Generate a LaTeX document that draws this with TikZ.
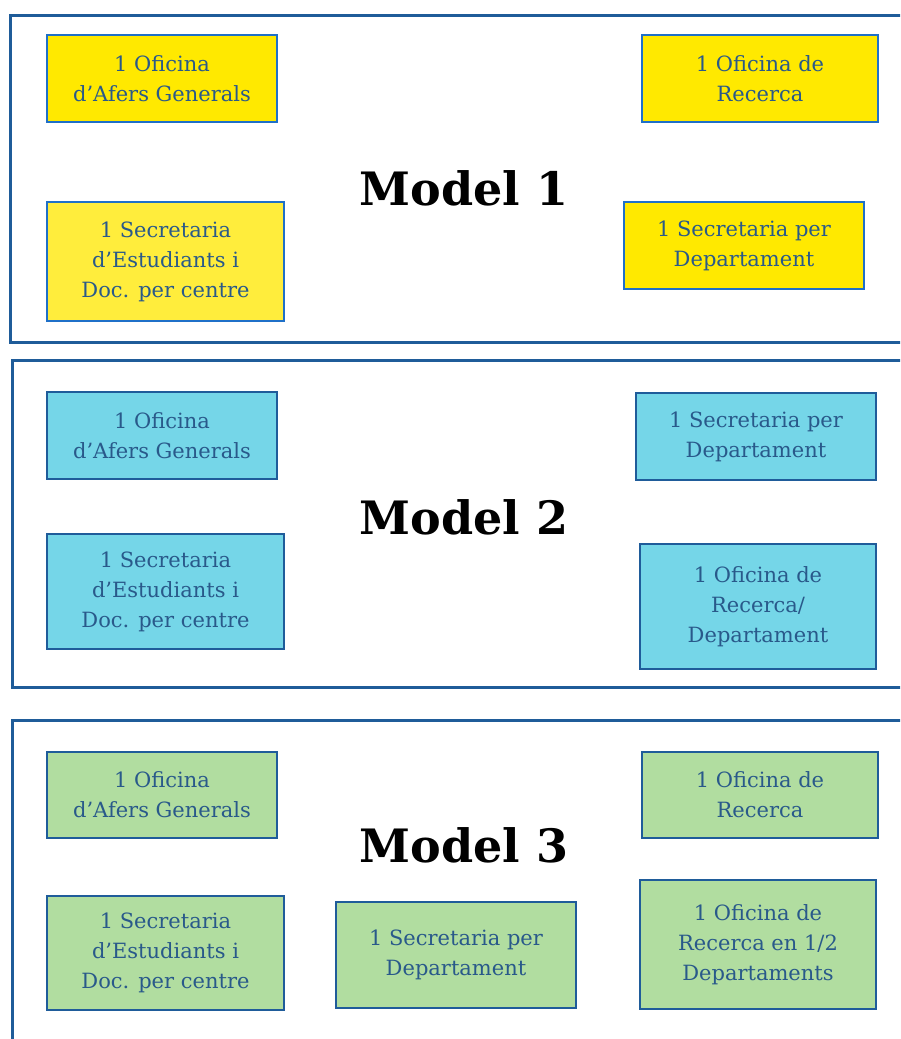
\documentclass[tikz,border=0pt]{standalone}
\usepackage{fontspec}
\setmainfont{DejaVu Serif}
\usepackage{tikz}
\usetikzlibrary{calc}
\usetikzlibrary{positioning}
\definecolor{panelblue}{HTML}{1F5C99}
\definecolor{edgebright}{HTML}{1F70C8}
\definecolor{edgedark}{HTML}{1F5C9A}
\definecolor{txtblue}{HTML}{29598A}
\definecolor{yellowA}{HTML}{FFE900}
\definecolor{yellowB}{HTML}{FFED3C}
\definecolor{cyanA}{HTML}{75D6E8}
\definecolor{greenA}{HTML}{B1DDA0}
\begin{document}
\begin{tikzpicture}[x=1pt, y=-1pt,
    panel/.style={draw=panelblue, line width=3pt},
    unit/.style={rectangle, draw=edgedark, line width=2.8pt, align=center, inner sep=0pt,
        text=txtblue, font=\fontsize{21}{30}\selectfont},
    title/.style={font=\fontsize{46}{50}\selectfont\bfseries, text=black}]
            \clip (0, 0) rectangle (900, 1039);
            \fill[white] (0, 0) rectangle (900, 1039);
            \draw[panel] (10, 15) rectangle (910, 342);
            \draw[panel] (12, 360) rectangle (910, 687);
            \draw[panel] (12, 720) rectangle (910, 1050);
            \foreach \t/\y in {1/188, 2/517, 3/845}
            {
                \node[title] (model\t) at (464, \y) {Model \t};
            }
            % Model 1
            \node[unit, draw=edgebright, fill=yellowA, minimum width=230pt, minimum height=87pt] (m1gen) at (162, 78.5) {1 Oficina\\d’Afers Generals};
            \node[unit, draw=edgebright, fill=yellowA, minimum width=236pt, minimum height=87pt] (m1rec) at (760, 78.5) {1 Oficina de\\Recerca};
            \node[unit, draw=edgebright, fill=yellowB, minimum width=237pt, minimum height=119pt] (m1est) at (165.5, 261.5) {1 Secretaria\\d’Estudiants i\\Doc. per centre};
            \node[unit, draw=edgebright, fill=yellowA, minimum width=240pt, minimum height=87pt] (m1dep) at (744, 245.5) {1 Secretaria per\\Departament};
            % Model 2
            \node[unit, fill=cyanA, minimum width=230pt, minimum height=87pt] (m2gen) at (162, 435.5) {1 Oficina\\d’Afers Generals};
            \node[unit, fill=cyanA, minimum width=240pt, minimum height=87pt] (m2dep) at (756, 436.5) {1 Secretaria per\\Departament};
            \node[unit, fill=cyanA, minimum width=237pt, minimum height=115pt] (m2est) at (165.5, 591.5) {1 Secretaria\\d’Estudiants i\\Doc. per centre};
            \node[unit, fill=cyanA, minimum width=236pt, minimum height=125pt] (m2rec) at (758, 606.5) {1 Oficina de\\Recerca/\\Departament};
            % Model 3
            \node[unit, fill=greenA, minimum width=230pt, minimum height=86pt] (m3gen) at (162, 795) {1 Oficina\\d’Afers Generals};
            \node[unit, fill=greenA, minimum width=236pt, minimum height=86pt] (m3rec) at (760, 795) {1 Oficina de\\Recerca};
            \node[unit, fill=greenA, minimum width=237pt, minimum height=114pt] (m3est) at (165.5, 953) {1 Secretaria\\d’Estudiants i\\Doc. per centre};
            \node[unit, fill=greenA, minimum width=240pt, minimum height=106pt] (m3dep) at (456, 955) {1 Secretaria per\\Departament};
            \node[unit, fill=greenA, minimum width=236pt, minimum height=129pt] (m3half) at (758, 944.5) {1 Oficina de\\Recerca en 1/2\\Departaments};
        \end{tikzpicture}
\end{document}
